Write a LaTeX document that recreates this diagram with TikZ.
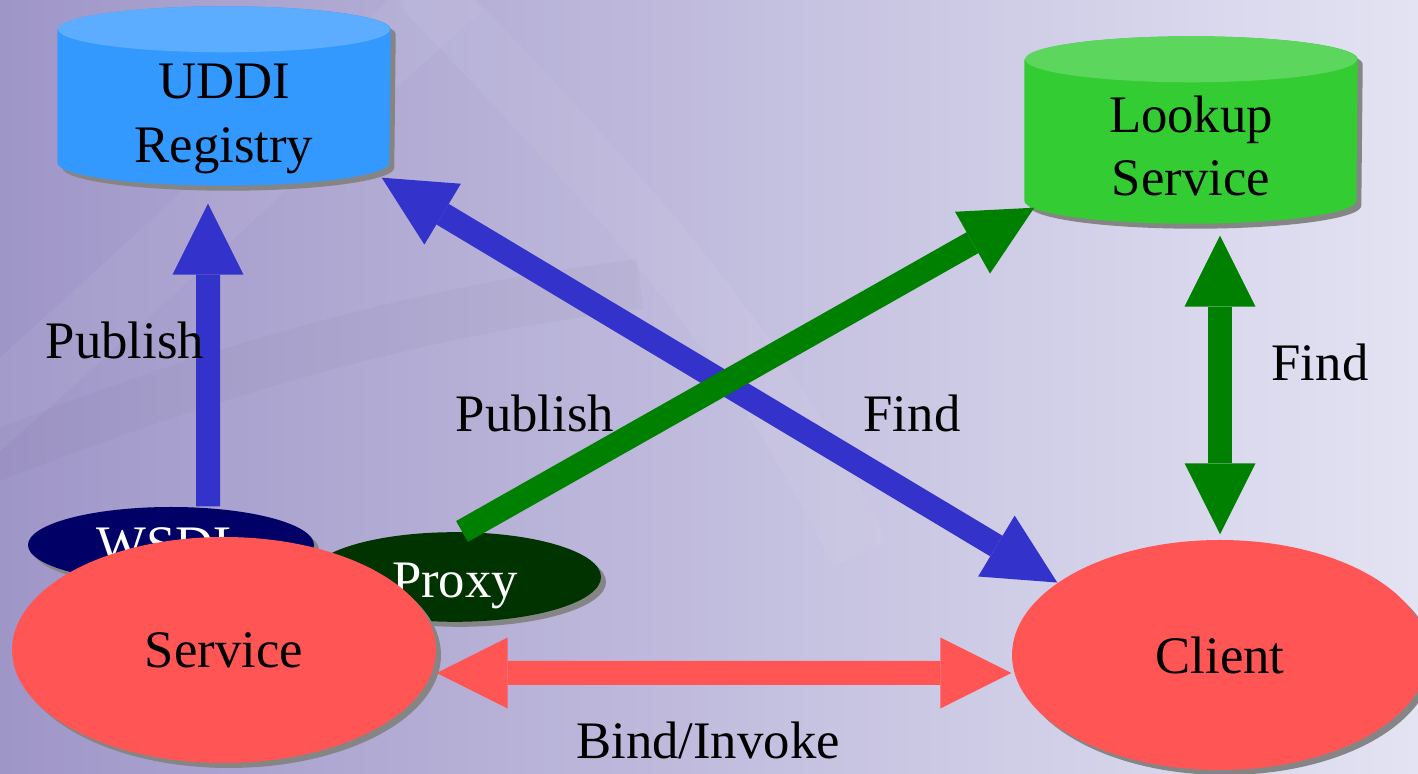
\documentclass[tikz,border=0pt]{standalone}
\usepackage{fontspec}
\setmainfont{Liberation Serif}
\usetikzlibrary{shapes.geometric, arrows.meta, positioning, calc, shadows}
\definecolor{regside}{HTML}{3399FF}
\definecolor{reglid}{HTML}{5CADFF}
\definecolor{lookside}{HTML}{33CC33}
\definecolor{looklid}{HTML}{5CD65C}
\definecolor{pubblue}{HTML}{3333CC}
\definecolor{findgreen}{HTML}{008000}
\definecolor{svcred}{HTML}{FF5555}
\definecolor{wsdlnavy}{HTML}{000066}
\definecolor{proxygreen}{HTML}{003300}
\definecolor{shadowgray}{HTML}{858585}
\definecolor{bgleft}{HTML}{9F96C8}
\definecolor{bgright}{HTML}{E3E3F3}

\pgfdeclarelayer{back}
\pgfdeclarelayer{drums}
\pgfsetlayers{back,drums,main}

\def\drumrx{1.66cm}
\def\drumry{0.23cm}
% outline of a drum round a node: name, x offset, y offset
\newcommand{\drumpath}[3]{([xshift=#2, yshift=#3+\drumry]#1.north west)
  -- ([xshift=#2, yshift=#3+\drumry]#1.south west)
  arc[start angle=180, end angle=360, x radius=\drumrx, y radius=\drumry]
  -- ([xshift=#2, yshift=#3+\drumry]#1.north east)
  arc[start angle=0, end angle=180, x radius=\drumrx, y radius=\drumry] -- cycle}
% drum behind a node: name, lid colour, side colour
\newcommand{\drum}[3]{%
  \begin{pgfonlayer}{drums}
    \fill[shadowgray] \drumpath{#1}{0.5mm}{-0.5mm};
    \fill[#3] \drumpath{#1}{0pt}{0pt};
    \fill[#2] ([yshift=\drumry]#1.north) ellipse[x radius=\drumrx, y radius=\drumry];
  \end{pgfonlayer}}

\begin{document}
\begin{tikzpicture}[
    every node/.style={font=\fontsize{15}{18}\selectfont},
    store/.style={rectangle, inner sep=0pt, minimum width=3.32cm, align=center},
    blob/.style={ellipse, inner sep=0pt, fill=#1,
                 drop shadow={shadow xshift=0.5mm, shadow yshift=-0.5mm, fill=shadowgray, opacity=1}},
    fatarrow/.style={line width=2.4mm, draw=#1, -{Triangle[length=7.1mm, width=7.1mm, line width=0pt]}},
    fatboth/.style={line width=2.4mm, draw=#1,
                    {Triangle[length=7.1mm, width=7.1mm, line width=0pt]}-{Triangle[length=7.1mm, width=7.1mm, line width=0pt]}}
]
\useasboundingbox (0,0) rectangle (14.18,7.74);
\begin{pgfonlayer}{back}
  \shade[left color=bgleft, right color=bgright] (0,0) rectangle (14.18,7.74);
  \draw[white, opacity=.05, line width=7mm] (-1.5,2.4) .. controls (1,4.5) and (3,6.5) .. (4.6,7.9);
  \draw[white, opacity=.05, line width=6mm] (4.2,7.9) .. controls (6,6) and (7.5,4.5) .. (8.6,2.2);
  \draw[black, opacity=.025, line width=5mm] (-0.5,3) .. controls (2,4) and (4,4.6) .. (6.4,4.9);
\end{pgfonlayer}

% registries
\node[store, minimum height=1.32cm] (uddi) at (2.24,6.55) {UDDI\\Registry};
\drum{uddi}{reglid}{regside}
\node[store, minimum height=1.40cm, text depth=1.4mm] (lookup) at (11.91,6.21) {Lookup\\Service};
\drum{lookup}{looklid}{lookside}

% endpoints
\node[blob=wsdlnavy, text=white, minimum width=2.86cm, minimum height=0.76cm] (wsdl) at (1.71,2.29) {WSDL};
\node[blob=proxygreen, text=white, minimum width=2.92cm, minimum height=0.80cm, text height=5.2mm] (proxy) at (4.55,1.97) {Proxy};
\node[blob=svcred, minimum width=4.24cm, minimum height=2.26cm] (service) at (2.24,1.24) {Service};
\node[blob=svcred, minimum width=4.16cm, minimum height=2.30cm] (client) at (12.20,1.19) {Client};

% connectors
\draw[fatarrow=pubblue] ([xshift=3.7mm]wsdl.north) -- ([xshift=-1.6mm, yshift=-1.8mm]uddi.south);
\draw[fatboth=pubblue] ([xshift=-0.9mm, yshift=0.8mm]uddi.south east) -- (client.156);
\draw[fatarrow=findgreen] ([xshift=0.7mm]proxy.north) -- ([xshift=1mm, yshift=1.6mm]lookup.south west);
\draw[fatboth=findgreen] ([yshift=-1.2mm]lookup.south -| client.north) -- ([yshift=0.5mm]client.north);
\draw[fatboth=svcred] ([yshift=-2.3mm]service.east) -- ([yshift=-1.8mm]client.west);

% labels
\node (publeft) at (1.25,4.34) {Publish};
\node (pubmid) at (5.35,3.61) {Publish};
\node (findmid) at (9.12,3.61) {Find};
\node (findright) at (13.20,4.12) {Find};
\node (bind) at (7.08,0.34) {Bind/Invoke};
\end{tikzpicture}
\end{document}
